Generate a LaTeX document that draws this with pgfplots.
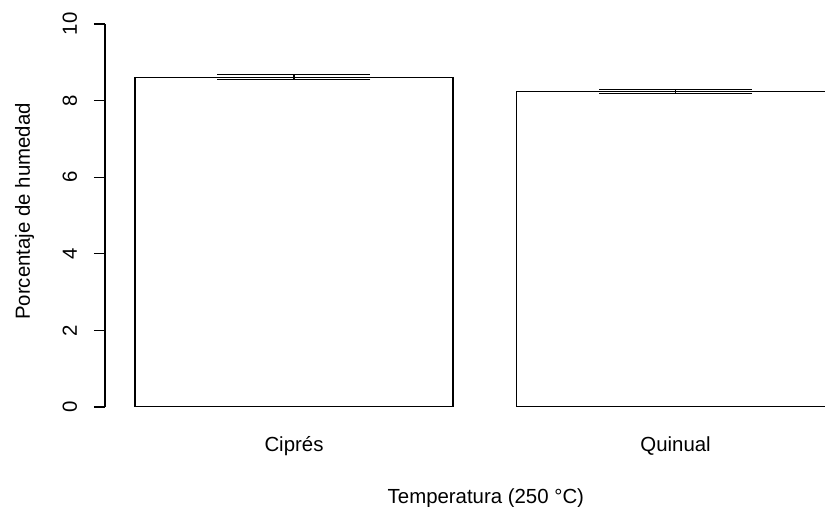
\documentclass[border=0pt]{standalone}
\usepackage{pgfplots}
\pgfplotsset{compat=1.18}
\usepackage{fontspec}
\setmainfont{Liberation Sans}
\begin{document}
\fontsize{10.2pt}{12pt}\selectfont
\begin{tikzpicture}
\begin{axis}[
  width=360pt, height=191.5pt, scale only axis,
  xmin=0.1057, xmax=2.3698, ymin=0, ymax=10,
  axis lines*=left,
  x axis line style={draw=none},
  y axis line style={line width=0.55pt, black},
  xtick={0.7,1.9}, xticklabels={Ciprés,Quinual},
  xtick style={draw=none},
  ytick={0,2,4,6,8,10},
  tick align=outside,
  major tick length=5.5pt,
  ytick style={line width=0.55pt, black},
  /pgf/number format/assume math mode=true,
  ticklabel style={font=\fontsize{10.2pt}{12pt}\selectfont},
  yticklabel style={rotate=90, anchor=base, inner sep=0pt},
  yticklabel shift=8.5pt,
  xticklabel style={anchor=base, inner sep=0pt},
  xticklabel shift=17pt,
  xlabel={Temperatura (250 °C)},
  ylabel={Porcentaje de humedad},
  label style={font=\fontsize{10.2pt}{12pt}\selectfont},
  xlabel style={at={(axis description cs:0.529,-0.2507)}, anchor=base, inner sep=0pt},
  ylabel style={at={(axis description cs:-0.1042,0.5104)}, anchor=base, inner sep=0pt, rotate=0},
  clip=true,
]
\addplot[ybar, bar width=1, fill=white, draw=black, line width=0.55pt,
  error bars/.cd, y dir=both, y explicit,
  error bar style={line width=0.6pt, black},
  error mark options={rotate=90, black, line width=0.6pt, mark size=38.25pt}]
  coordinates {(0.7,8.61) +- (0,0.065) (1.9,8.23) +- (0,0.05)};
\coordinate (bl) at (rel axis cs:0,0);
\coordinate (tr) at (rel axis cs:1,1);
\end{axis}
\pgfresetboundingbox
\path ([xshift=-52.5pt,yshift=-50pt]bl) rectangle ([yshift=12pt]tr);
\end{tikzpicture}
\end{document}
